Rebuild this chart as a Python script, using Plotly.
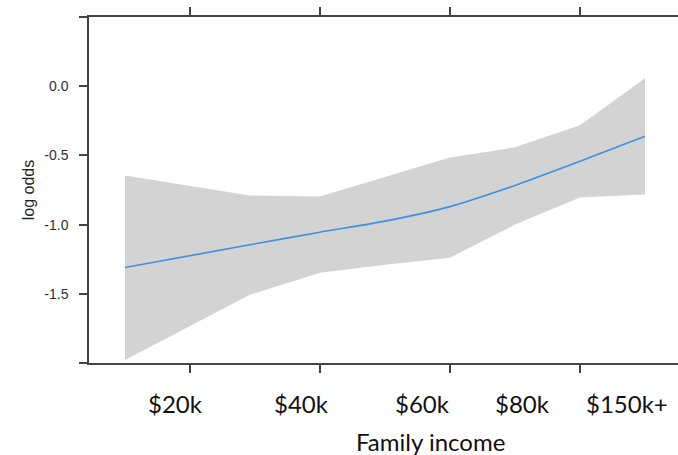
import plotly.graph_objects as go

# Income level (numeric scale) at which the effect was evaluated
income_level = [1, 2.92, 4, 5, 6, 7, 8, 9]
# Fitted log odds and confidence band
fit = [-1.31, -1.146, -1.055, -0.975, -0.87, -0.717, -0.543, -0.362]
upper = [-0.645, -0.79, -0.797, -0.656, -0.515, -0.442, -0.283, 0.058]
lower = [-1.978, -1.507, -1.348, -1.29, -1.239, -1.0, -0.804, -0.783]

# Income bracket labels under the axis
income_labels = ["$20k", "$40k", "$60k", "$80k", "$150k+"]
income_label_pos = [1.77, 3.71, 5.57, 7.12, 8.72]

y_ticks = [-2.0, -1.5, -1.0, -0.5, 0.0, 0.5]
y_ticktext = ["", "-1.5", "-1.0", "-0.5", "0.0", ""]

axis_color = "#444444"

fig = go.Figure()
fig.add_trace(go.Scatter(
    x=income_level, y=lower, mode="lines",
    line=dict(width=0, color="#d3d3d3"), hoverinfo="skip", showlegend=False))
fig.add_trace(go.Scatter(
    x=income_level, y=upper, mode="lines", fill="tonexty",
    fillcolor="#d3d3d3", line=dict(width=0, color="#d3d3d3"),
    hoverinfo="skip", showlegend=False))
fig.add_trace(go.Scatter(
    x=income_level, y=fit, mode="lines", line_shape="spline",
    line=dict(width=1.6, color="#3d8fe8", smoothing=0.6), showlegend=False))

annotations = [
    dict(x=xp, y=0, xref="x", yref="paper", text=lab, showarrow=False,
         xanchor="center", yanchor="middle", yshift=-40,
         font=dict(family="Lato", size=24, color="#111111"))
    for lab, xp in zip(income_labels, income_label_pos)
]
annotations.append(dict(
    x=0.579, y=0, xref="paper", yref="paper", text="Family income",
    showarrow=False, xanchor="center", yanchor="middle", yshift=-78,
    font=dict(family="Lato", size=24, color="#111111")))

fig.update_layout(
    width=678, height=455,
    margin=dict(l=89, r=0, t=17, b=92),
    paper_bgcolor="white", plot_bgcolor="white",
    annotations=annotations,
    xaxis=dict(
        range=[(89 - 60) / 65, (678 - 60) / 65],
        tickvals=[2, 4, 6, 8], showticklabels=False,
        ticks="outside", ticklen=8, tickwidth=1.5, tickcolor=axis_color,
        showline=True, linewidth=1.5, linecolor=axis_color,
        mirror="ticks", showgrid=False, zeroline=False, fixedrange=True),
    yaxis=dict(
        range=[-2.0, 0.5], tickvals=y_ticks, ticktext=y_ticktext,
        ticks="outside", ticklen=8, tickwidth=1.5, tickcolor=axis_color,
        showline=True, linewidth=1.5, linecolor=axis_color,
        ticklabelstandoff=8,
        tickfont=dict(family="Arial", size=14, color="#2e2e3a"),
        title=dict(text="log odds", standoff=6,
                   font=dict(family="Arial", size=16, color="#222222")),
        showgrid=False, zeroline=False, fixedrange=True),
)

fig.write_html("out.html")
